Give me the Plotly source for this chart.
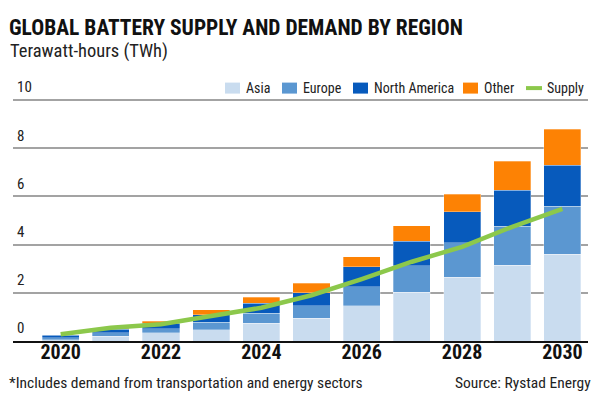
import plotly.graph_objects as go

years = [2020, 2021, 2022, 2023, 2024, 2025, 2026, 2027, 2028, 2029, 2030]
asia = [0.06, 0.20, 0.34, 0.46, 0.73, 0.95, 1.46, 2.03, 2.64, 3.14, 3.61]
europe = [0.08, 0.15, 0.17, 0.32, 0.42, 0.52, 0.79, 1.10, 1.43, 1.63, 1.98]
north_america = [0.10, 0.14, 0.22, 0.30, 0.41, 0.54, 0.83, 1.02, 1.30, 1.48, 1.70]
other = [0.03, 0.04, 0.09, 0.21, 0.25, 0.38, 0.42, 0.64, 0.72, 1.21, 1.51]
supply = [0.28, 0.55, 0.70, 1.02, 1.38, 1.90, 2.57, 3.29, 3.91, 4.74, 5.48]

x_ticks = [2020, 2022, 2024, 2026, 2028, 2030]
y_ticks = [0, 2, 4, 6, 8, 10]

series = [
    ("Asia", asia, "#c9dcef"),
    ("Europe", europe, "#5b97d1"),
    ("North America", north_america, "#075abc"),
    ("Other", other, "#fd8204"),
]
supply_name, supply_color = "Supply", "#8cc84b"

COND = "Roboto Condensed, Roboto, Arial, sans-serif"

W, H = 600, 399
L, R, B = 13, 588, 341
T = B - 11 * 24.1

def px(x):
    return (x - L) / (R - L)

def py(y):
    return (B - y) / (B - T)

fig = go.Figure()
for name, vals, col in series:
    fig.add_trace(go.Bar(
        x=years, y=vals, name=name, showlegend=False,
        marker=dict(color=col, line=dict(color="rgba(255,255,255,0.6)", width=0.5)),
    ))
fig.add_trace(go.Scatter(
    x=years, y=supply, name=supply_name, mode="lines", showlegend=False,
    line=dict(color=supply_color, width=4.5),
))

# legend key row (drawn in the top margin, as in the original)
legend_left = [225, 282, 353, 463, 526]
legend_mid = 88
shapes = []
annotations = []
for i, (name, _, col) in enumerate(series):
    x0 = legend_left[i]
    shapes.append(dict(type="rect", xref="paper", yref="paper",
                       x0=px(x0), x1=px(x0 + 15), y0=py(legend_mid + 5.5), y1=py(legend_mid - 5.5),
                       fillcolor=col, line=dict(width=0)))
    annotations.append(dict(text=name, xref="paper", yref="paper", x=px(x0 + 19), y=py(legend_mid),
                            xanchor="left", yanchor="middle", showarrow=False,
                            font=dict(family=COND, size=14, color="#222")))
x0 = legend_left[-1]
shapes.append(dict(type="line", xref="paper", yref="paper",
                   x0=px(x0), x1=px(x0 + 16), y0=py(legend_mid), y1=py(legend_mid),
                   line=dict(color=supply_color, width=4)))
annotations.append(dict(text=supply_name, xref="paper", yref="paper", x=px(x0 + 19), y=py(legend_mid),
                        xanchor="left", yanchor="middle", showarrow=False,
                        font=dict(family=COND, size=14, color="#222")))

annotations += [
    dict(text="<b>GLOBAL BATTERY SUPPLY AND DEMAND BY REGION</b>",
         xref="paper", yref="paper", x=px(7), y=py(27.5),
         xanchor="left", yanchor="middle", showarrow=False,
         font=dict(family=COND, size=21.5, color="#111")),
    dict(text="Terawatt-hours (TWh)",
         xref="paper", yref="paper", x=px(8), y=py(51),
         xanchor="left", yanchor="middle", showarrow=False,
         font=dict(family=COND, size=18.5, color="#222")),
    dict(text="*Includes demand from transportation and energy sectors",
         xref="paper", yref="paper", x=px(7), y=py(383),
         xanchor="left", yanchor="middle", showarrow=False,
         font=dict(family=COND, size=15.5, color="#222")),
    dict(text="Source: Rystad Energy",
         xref="paper", yref="paper", x=px(593), y=py(383),
         xanchor="right", yanchor="middle", showarrow=False,
         font=dict(family=COND, size=15.5, color="#222")),
]

fig.update_layout(
    width=W, height=H,
    margin=dict(l=L, r=W - R, t=T, b=H - B, pad=0),
    paper_bgcolor="white", plot_bgcolor="white",
    barmode="stack", bargap=0.26,
    showlegend=False,
    xaxis=dict(
        range=[2019.05, 2030.51], tickmode="array",
        tickvals=x_ticks, ticktext=[str(v) for v in x_ticks],
        showgrid=False, zeroline=False,
        showline=True, linecolor="#111", linewidth=2,
        ticks="", ticklabelstandoff=-8,
        tickfont=dict(family=COND, size=20, color="#111", weight="bold"),
    ),
    yaxis=dict(
        range=[0, 11], tickmode="array",
        tickvals=y_ticks, ticktext=[str(v) for v in y_ticks],
        showgrid=True, gridcolor="#a3a3a3", gridwidth=1.5,
        zeroline=False, showline=False, ticks="",
        ticklabelposition="inside", ticklabelshift=-13, ticklabelstandoff=1,
        tickfont=dict(family=COND, size=15, color="#222"),
    ),
    shapes=shapes,
    annotations=annotations,
)

fig.write_html("out.html", config={"displayModeBar": False},
               post_script="document.body.style.margin='0';")
